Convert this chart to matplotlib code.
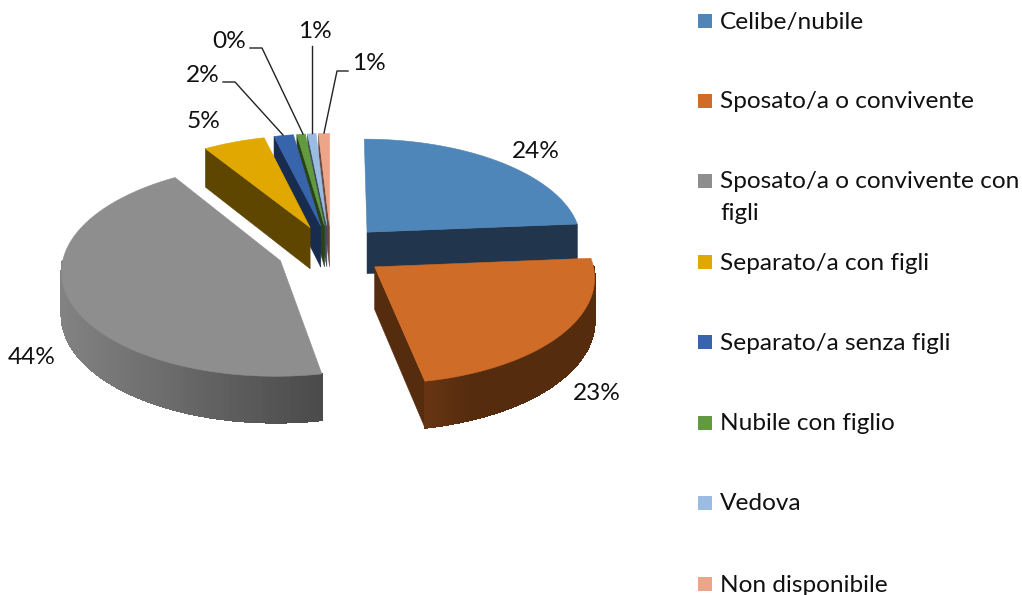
import numpy as np
import matplotlib
matplotlib.use('Agg')
import matplotlib.pyplot as plt
from matplotlib.colors import to_rgb

# dati
categories = ['Celibe/nubile', 'Sposato/a o convivente', 'Sposato/a o convivente con\nfigli',
              'Separato/a con figli', 'Separato/a senza figli', 'Nubile con figlio',
              'Vedova', 'Non disponibile']
shares = [23.7, 23.2, 44.1, 5.1, 1.6, 0.7, 0.7, 0.9]
pct_labels = ['24%', '23%', '44%', '5%', '2%', '0%', '1%', '1%']

colors = ['#4f86b9', '#cf6c28', '#8e8e8e', '#e0a800', '#3864ab', '#629b3f', '#9abce2', '#eda58a']
side_colors = ['#21364c', '#562c0f', '#808080', '#5e4600', '#172c4f', '#2a4218', '#3e4d5e', '#6b4a3e']

plt.rcParams['font.family'] = ['Lato', 'DejaVu Sans']
FS = 17.6

# geometria della torta, in pixel
CX, CY = 331, 251
RX, RY = 216, 104
PERSP = 0.085
EXPLODE = 0.25
DEPTH = 42


def project(x, y):
    s = 1 / (1 + PERSP * y)
    return CX + RX * x * s, CY - RY * y * s, s


def shade(c, f):
    return tuple(v * f for v in to_rgb(c))


fig = plt.figure(figsize=(10.22, 5.95), dpi=100)
ax = fig.add_axes([0, 0, 1, 1])
ax.set_xlim(0, 1022)
ax.set_ylim(595, 0)
ax.axis('off')

# angoli, in senso orario da ore 12
ends = np.cumsum(shares) / 100 * 360
starts = ends - np.array(shares) / 100 * 360
a1 = 90 - starts
a0 = 90 - ends


def draw_slice(i, z):
    mid = np.radians((a0[i] + a1[i]) / 2)
    ox, oy = EXPLODE * np.cos(mid), EXPLODE * np.sin(mid)
    th = np.radians(np.linspace(a1[i], a0[i], 120))
    x, y, s = project(ox + np.cos(th), oy + np.sin(th))
    ax_, ay_, as_ = project(ox, oy)

    # facce di taglio visibili
    for ang, sign, k in [(a1[i], 90, 0), (a0[i], -90, -1)]:
        if np.sin(np.radians(ang + sign)) < -0.01:
            px = [ax_, x[k], x[k], ax_]
            py = [ay_, y[k], y[k] + DEPTH * s[k], ay_ + DEPTH * as_]
            ax.fill(px, py, color=side_colors[i], lw=0.4, zorder=z)

    # bordo esterno: base unica, poi strisce senza antialias per la sfumatura
    vis = np.sin(th) < 0.02
    if vis.sum() > 1:
        bx, by, bs = x[vis], y[vis], s[vis]
        ax.fill(np.r_[bx, bx[::-1]], np.r_[by, (by + DEPTH * bs)[::-1]],
                color=shade('#8e8e8e', 0.7) if i == 2 else side_colors[i], lw=0.4, zorder=z)
        if i in (1, 2):
            for j in range(len(bx) - 1):
                if i == 2:
                    col = shade('#8e8e8e', 0.92 - 0.40 * (bx[j] - 60) / 265)
                else:
                    col = shade(side_colors[1], 1.0 + 0.2 * max(0, (470 - bx[j]) / 45))
                px = [bx[j], bx[j + 1], bx[j + 1], bx[j]]
                py = [by[j], by[j + 1], by[j + 1] + DEPTH * bs[j + 1], by[j] + DEPTH * bs[j]]
                ax.fill(px, py, color=col, lw=0.8, antialiased=False, zorder=z)

    # faccia superiore
    ax.fill(np.r_[ax_, x], np.r_[ay_, y], color=colors[i], lw=0.4, zorder=z + 0.001)


# dal fondo verso il davanti
for n, i in enumerate([0, 7, 6, 5, 4, 3, 2, 1]):
    draw_slice(i, 2 + n * 0.01)

# etichette percentuali
label_pos = [(536, 152), (597, 394), (32, 357), (204, 122), (203, 75), (229, 41), (315, 32), (369, 64)]
for txt, (lx, ly) in zip(pct_labels, label_pos):
    ax.text(lx, ly, txt, fontsize=FS, ha='center', va='center', color='#111111', zorder=5)

# linee guida
leaders = [
    [(223, 82), (235, 82), (283, 135)],
    [(250, 48), (262, 48), (303, 134)],
    [(312, 46), (312, 133)],
    [(348, 71), (337, 71), (324, 133)],
]
for pts in leaders:
    ax.plot(*zip(*pts), color='#222222', lw=1.0, zorder=4)

# legenda
legend_y = [21, 101, 181, 262, 342, 423, 503, 584]
for name, c, ly in zip(categories, colors, legend_y):
    ax.add_patch(plt.Rectangle((698, ly - 7), 14, 14, color=c, lw=0, zorder=3))
    for k, line in enumerate(name.split('\n')):
        ax.text(720, ly + 1 + 32 * k, line, fontsize=FS, va='center', ha='left', color='#111111', zorder=5)

fig.savefig('out.png', dpi=100)
